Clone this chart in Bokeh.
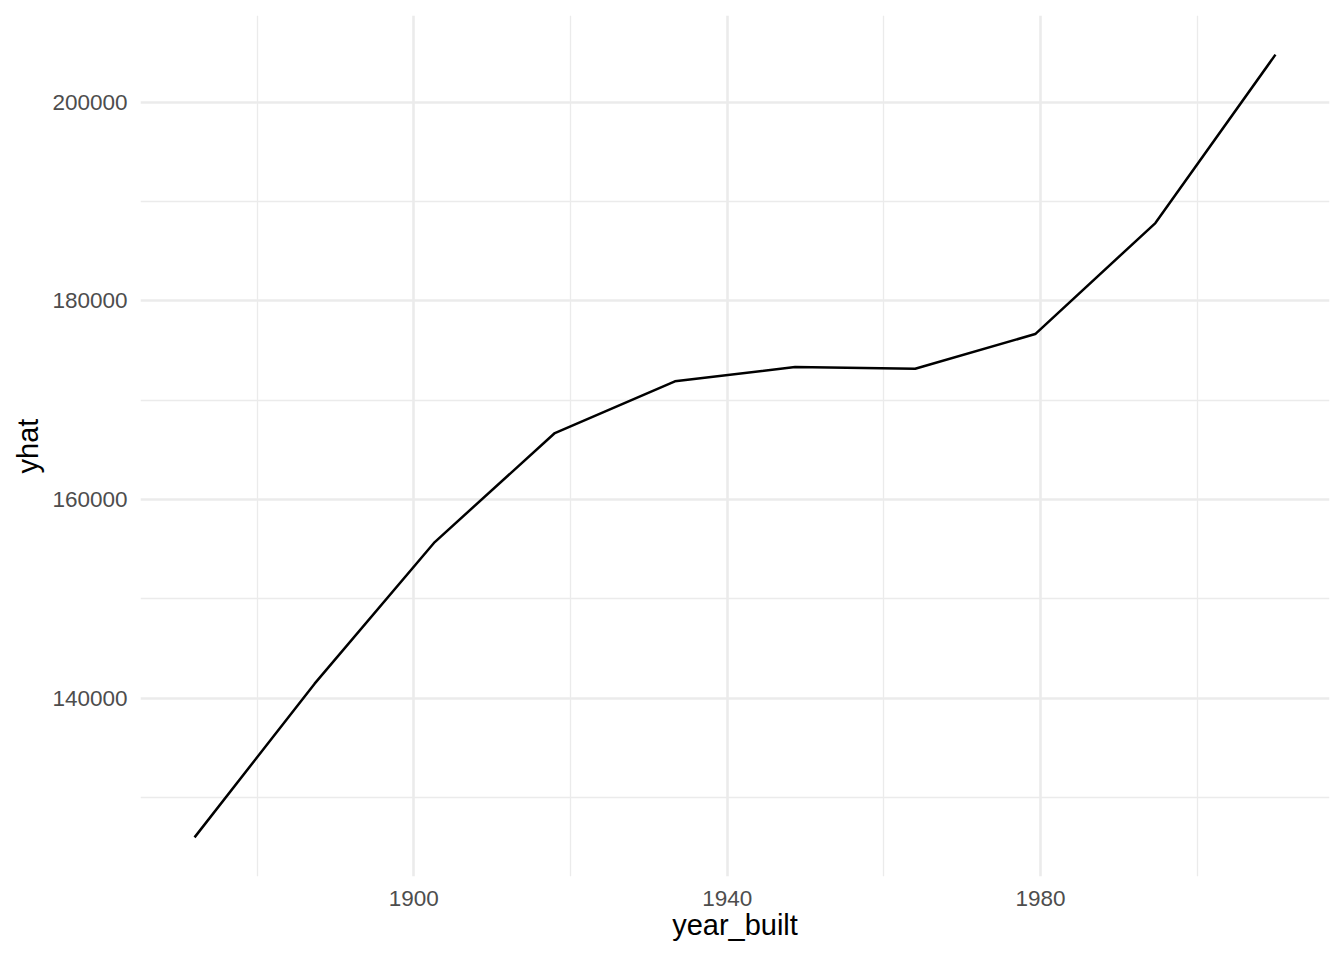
from bokeh.plotting import figure
from bokeh.models import FixedTicker, Range1d
from bokeh.embed import file_html
from bokeh.resources import INLINE

# data
year_built = [1872.0, 1887.33, 1902.67, 1918.0, 1933.33, 1948.67, 1964.0, 1979.33, 1994.67, 2010.0]
yhat = [125976, 141450, 155705, 166680, 171885, 173325, 173160, 176645, 187820, 204775]

x_major = [1900, 1940, 1980]
x_minor = [1880, 1920, 1960, 2000]
y_major = [140000, 160000, 180000, 200000]
y_minor = [130000, 150000, 170000, 190000]

# ggplot-like 5% expansion
xmin, xmax = min(year_built), max(year_built)
ymin, ymax = min(yhat), max(yhat)
xpad = (xmax - xmin) * 0.05
ypad = (ymax - ymin) * 0.05

FONT = "Liberation Sans"

p = figure(
    output_backend="svg",
    toolbar_location=None,
    frame_width=1189,
    frame_height=861,
    min_border_left=140,
    min_border_right=7,
    min_border_top=15,
    min_border_bottom=70,
    x_range=Range1d(xmin - xpad, xmax + xpad),
    y_range=Range1d(ymin - ypad, ymax + ypad),
)
p.outline_line_color = None
p.background_fill_color = "white"
p.border_fill_color = "white"

p.line(year_built, yhat, line_color="black", line_width=2.5)

p.xaxis.ticker = FixedTicker(ticks=x_major, minor_ticks=x_minor)
p.yaxis.ticker = FixedTicker(ticks=y_major, minor_ticks=y_minor)

for ax in (p.xaxis, p.yaxis):
    ax.axis_line_color = None
    ax.major_tick_line_color = None
    ax.minor_tick_line_color = None
    ax.major_tick_in = 0
    ax.major_tick_out = 0
    ax.minor_tick_in = 0
    ax.minor_tick_out = 0
    ax.major_label_text_font = FONT
    ax.major_label_text_font_size = "22.5px"
    ax.major_label_text_color = "#4D4D4D"
    ax.axis_label_text_font = FONT
    ax.axis_label_text_font_size = "29px"
    ax.axis_label_text_font_style = "normal"
    ax.axis_label_text_color = "black"

p.xaxis.axis_label = "year_built"
p.yaxis.axis_label = "yhat"
p.xaxis.major_label_standoff = 14
p.yaxis.major_label_standoff = 13
p.xaxis.axis_label_standoff = 0
p.yaxis.axis_label_standoff = 5
p.yaxis.formatter.use_scientific = False

for g in (p.xgrid, p.ygrid):
    g.grid_line_color = "#EBEBEB"
    g.grid_line_width = 2.6
    g.minor_grid_line_color = "#EBEBEB"
    g.minor_grid_line_width = 1.3

open("out.html", "w").write(file_html(p, INLINE))
